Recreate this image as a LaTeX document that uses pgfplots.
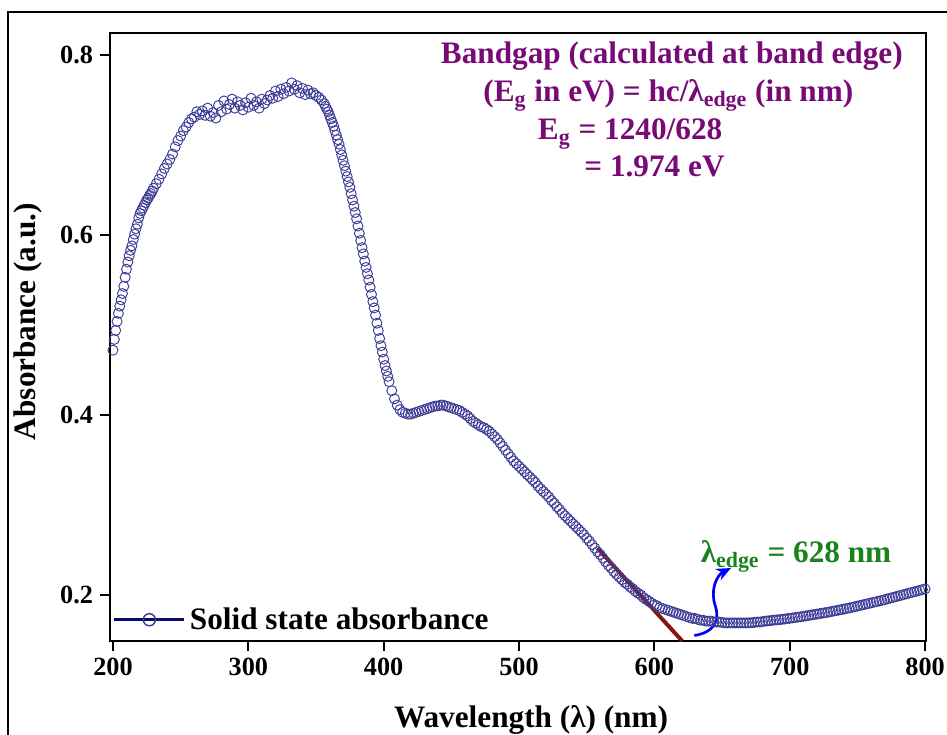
\documentclass[border=0pt]{standalone}
\usepackage{fontspec}
\setmainfont{Liberation Serif}
\usepackage{pgfplots}
\pgfplotsset{compat=1.18}
\usetikzlibrary{arrows.meta}

\definecolor{markblue}{RGB}{60,60,150}
\definecolor{legnavy}{RGB}{10,10,110}
\definecolor{txtpurple}{RGB}{120,10,120}
\definecolor{edgegreen}{RGB}{25,130,25}
\definecolor{fitred}{RGB}{135,20,20}

\newcommand{\bigbf}{\fontsize{15}{18}\selectfont\bfseries}

\begin{document}
\begin{tikzpicture}
\begin{axis}[
    scale only axis, width=391.7pt, height=291.8pt,
    xmin=197.8, xmax=800.7, ymin=0.1489, ymax=0.8244,
    axis line style={line width=1.2pt},
    xtick={200,300,...,800}, ytick={0.2,0.4,0.6,0.8},
    yticklabel style={/pgf/number format/fixed, /pgf/number format/precision=1},
    tick align=outside, major tick length=4.6pt,
    tick style={line width=1pt, black},
    tick pos=left,
    /pgf/number format/assume math mode=true,
    ticklabel style={font=\fontsize{12.6}{15}\selectfont\bfseries},
    xlabel={Wavelength (λ) (nm)}, ylabel={Absorbance (a.u.)},
    label style={font=\bigbf},
    xlabel style={at={(axis description cs:0.516,-0.142)}, anchor=base},
    ylabel style={at={(axis description cs:-0.1005,0.5255)}, anchor=center},
    legend style={draw=none, fill=none, at={(axis description cs:0.003,0.035)},
        anchor=west, font=\bigbf, inner sep=0pt},
    legend cell align=left,
    legend image code/.code={\draw[#1, mark repeat=2, mark phase=2]
        plot coordinates {(0pt,0pt) (16.8pt,0pt) (33.6pt,0pt)};},
]
% measured absorbance
\addplot[only marks, mark=o, mark size=2.4pt,
    mark options={markblue, line width=0.45pt}, forget plot] coordinates {
(200,0.472)(201,0.484)(202,0.494)(203,0.504)(204,0.513)(205,0.521)(206,0.528)(207,0.535)
(208,0.543)(209,0.553)(210,0.562)(211,0.570)(212,0.577)(213,0.583)(214,0.588)(215,0.595)
(216,0.601)(217,0.607)(218,0.612)(219,0.619)(220,0.624)(221,0.627)(222,0.630)(223,0.633)
(224,0.636)(225,0.639)(226,0.641)(227,0.644)(228,0.646)(229,0.649)(230,0.652)
(232,0.657)(234,0.662)(236,0.668)(238,0.674)(240,0.679)(242,0.684)(244,0.690)(246,0.698)
(248,0.705)(250,0.710)(252,0.716)(254,0.720)(256,0.725)(258,0.729)(260,0.731)(262,0.737)
(264,0.734)(266,0.738)(268,0.733)(270,0.741)(272,0.732)(274,0.736)(276,0.730)(278,0.744)
(280,0.737)(282,0.749)(284,0.740)(286,0.745)(288,0.751)(290,0.741)(292,0.748)(294,0.744)
(296,0.739)(298,0.747)(300,0.742)(302,0.752)(304,0.744)(306,0.748)(308,0.741)(310,0.751)
(312,0.746)(314,0.750)(316,0.755)(318,0.752)(320,0.760)(322,0.754)(324,0.762)(326,0.757)
(328,0.764)(330,0.760)(332,0.769)(334,0.762)(336,0.766)(338,0.758)(340,0.763)(342,0.756)
(344,0.761)(346,0.757)(348,0.758)(350,0.755)(352,0.753)(354,0.750)
(356,0.746)(357,0.743)(358,0.740)(359,0.737)(360,0.733)(361,0.729)(362,0.725)(363,0.721)
(364,0.716)(365,0.711)(366,0.706)(367,0.701)(368,0.695)(369,0.689)(370,0.683)(371,0.677)
(372,0.671)(373,0.665)(374,0.659)(375,0.653)(376,0.646)(377,0.639)(378,0.632)(379,0.625)
(380,0.618)(381,0.610)(382,0.602)(383,0.594)(384,0.586)(385,0.579)(386,0.571)(387,0.564)
(388,0.557)(389,0.550)(390,0.542)(391,0.534)(392,0.526)(393,0.519)(394,0.511)(395,0.502)
(396,0.494)(397,0.485)(398,0.477)(399,0.470)(400,0.462)(401,0.455)(402,0.449)(403,0.443)
(404,0.437)(406,0.427)(408,0.418)(410,0.411)(412,0.406)(414,0.403)(416,0.402)(418,0.401)
(420,0.401)(422,0.402)(424,0.403)(426,0.404)(428,0.405)(430,0.406)(432,0.407)(434,0.408)
(436,0.409)(438,0.410)(440,0.410)(442,0.411)(444,0.411)(446,0.410)(448,0.409)(450,0.408)
(452,0.407)(454,0.406)(456,0.405)(458,0.403)(460,0.401)(462,0.399)(464,0.396)(466,0.393)
(468,0.391)(470,0.389)(472,0.387)(474,0.386)(476,0.384)(478,0.382)(480,0.379)(482,0.376)
(484,0.373)(486,0.369)(488,0.365)(490,0.361)(492,0.357)(494,0.353)(496,0.349)(498,0.346)
(500,0.343)(502,0.340)(504,0.337)(506,0.334)(508,0.331)(510,0.328)(512,0.325)(514,0.321)
(516,0.318)(518,0.315)(520,0.312)(522,0.309)(524,0.305)(526,0.302)(528,0.298)(530,0.295)
(532,0.291)(534,0.288)(536,0.285)(538,0.282)(540,0.279)(542,0.276)(544,0.273)(546,0.270)
(548,0.267)(550,0.263)(552,0.260)(554,0.256)(556,0.252)(558,0.248)(560,0.245)(562,0.241)
(564,0.237)(566,0.233)(568,0.230)(570,0.226)(572,0.223)(574,0.220)(576,0.217)(578,0.214)
(580,0.212)(582,0.209)(584,0.207)(586,0.204)(588,0.202)(590,0.200)(592,0.197)(594,0.195)
(596,0.193)(598,0.191)(600,0.189)(602,0.188)(604,0.186)(606,0.185)(608,0.184)(610,0.183)
(612,0.182)(614,0.181)(616,0.180)(618,0.179)(620,0.178)(622,0.177)(624,0.176)(626,0.175)
(628,0.174)(630,0.174)(632,0.173)(634,0.172)(636,0.172)(638,0.171)(640,0.171)(642,0.171)
(644,0.170)(646,0.170)(648,0.170)(650,0.1695)(652,0.169)(654,0.169)(656,0.169)(658,0.169)
(660,0.169)(662,0.169)(664,0.169)(666,0.169)(668,0.169)(670,0.169)(672,0.1693)(674,0.1696)
(676,0.170)(678,0.170)(680,0.1705)(682,0.171)(684,0.1713)(686,0.1716)(688,0.172)(690,0.1723)
(692,0.1726)(694,0.1729)(696,0.1733)(698,0.1737)(700,0.1741)(702,0.1745)(704,0.175)(706,0.1754)
(708,0.1758)(710,0.1763)(712,0.1768)(714,0.1773)(716,0.1778)(718,0.1783)(720,0.1788)(722,0.1793)
(724,0.1798)(726,0.1803)(728,0.1808)(730,0.1814)(732,0.182)(734,0.1826)(736,0.1832)(738,0.1838)
(740,0.1844)(742,0.185)(744,0.1856)(746,0.1863)(748,0.187)(750,0.1877)(752,0.1884)(754,0.1891)
(756,0.1898)(758,0.1905)(760,0.1912)(762,0.1919)(764,0.1926)(766,0.1933)(768,0.194)(770,0.1948)
(772,0.1956)(774,0.1964)(776,0.1972)(778,0.198)(780,0.1988)(782,0.1996)(784,0.2004)(786,0.2012)
(788,0.202)(790,0.2028)(792,0.2036)(794,0.2044)(796,0.2052)(798,0.206)(800,0.2068)
};
% band-edge tangent
\addplot[fitred, line width=1.9pt, forget plot] coordinates {(558,0.252) (620.5,0.149)};
\addlegendimage{legnavy, line width=1.4pt, mark=o, mark size=2.9pt,
    mark options={fill=white, draw=markblue, line width=0.7pt}}
\addlegendentry{Solid state absorbance}

\draw[blue, line width=1.3pt, -{Stealth[length=7pt,width=6pt]}]
    (axis cs:629.5,0.155) .. controls (axis cs:642,0.158) and (axis cs:649,0.168)
    .. (axis cs:645,0.188) .. controls (axis cs:641,0.205) and (axis cs:646,0.222)
    .. (axis cs:656.6,0.230);

\node[anchor=base, text=txtpurple, font=\bigbf] at (axis cs:612.9,0.7908)
    {Bandgap (calculated at band edge)};
\node[anchor=base, text=txtpurple, font=\bigbf] at (axis cs:610.3,0.748)
    {(E\textsubscript{g} in eV) = hc/λ\textsubscript{edge} (in nm)};
\node[anchor=base west, inner sep=0pt, text=txtpurple, font=\bigbf] at (axis cs:513.7,0.7056)
    {E\textsubscript{g} = 1240/628};
\node[anchor=base west, inner sep=0pt, text=txtpurple, font=\bigbf] at (axis cs:548,0.6648)
    {= 1.974 eV};
\node[anchor=base west, inner sep=0pt, text=edgegreen, font=\bigbf] at (axis cs:634,0.236)
    {λ\textsubscript{edge} = 628 nm};
\end{axis}
\draw[line width=1.4pt] (-48.96pt,-60pt) -- (-48.96pt,301.92pt) -- (420pt,301.92pt);
\pgfresetboundingbox
\useasboundingbox (-52.8pt,-45.12pt) rectangle (401.76pt,307.68pt);
\end{tikzpicture}
\end{document}
